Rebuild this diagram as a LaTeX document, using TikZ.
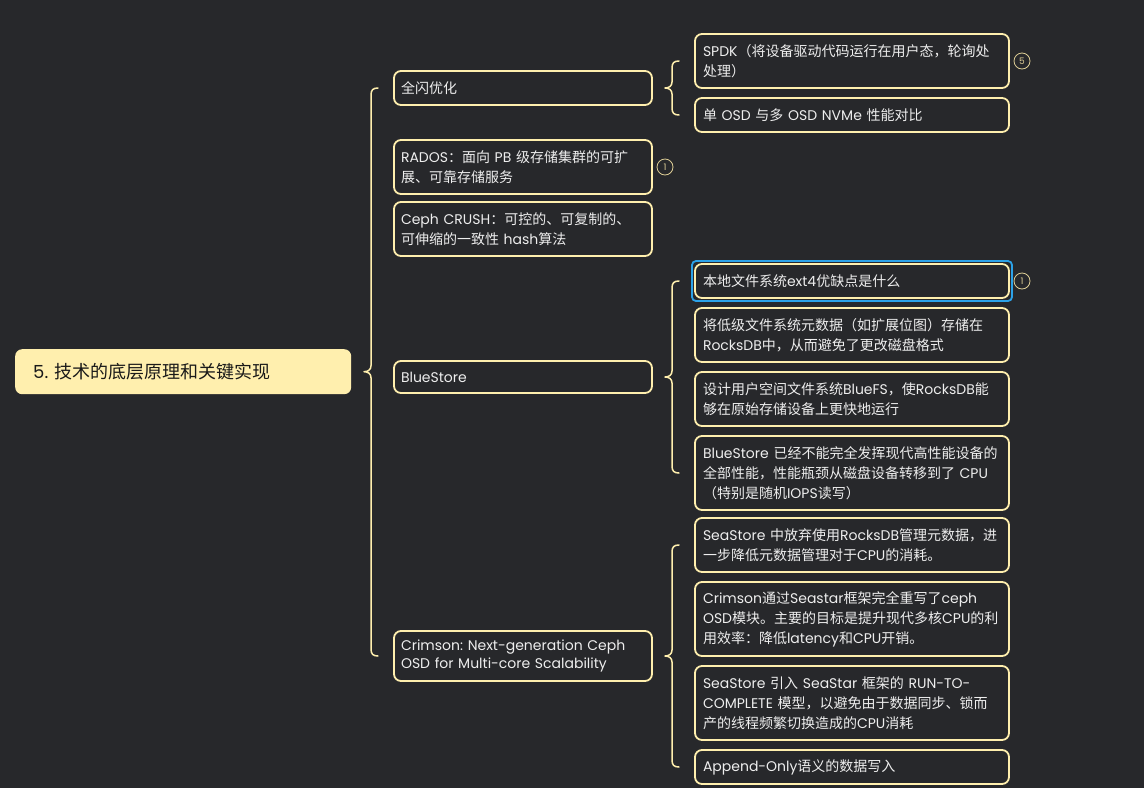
\documentclass[tikz,border=0pt]{standalone}
\usepackage{fontspec}
\usepackage{tikz}
\usetikzlibrary{calc}
\setmainfont{Poppins}
\frenchspacing
\newfontfamily\cjk{Noto Sans CJK SC}
\newcommand{\zh}[1]{{\cjk #1}}
\definecolor{bgdark}{RGB}{39,40,43}
\definecolor{cream}{RGB}{255,239,174}
\definecolor{leaftext}{RGB}{238,238,238}
\definecolor{selblue}{RGB}{44,162,232}
\definecolor{markgold}{RGB}{222,206,150}
\tikzset{
    topic/.style={draw=cream,line width=1.8pt,rounded corners=7,anchor=north west,inner sep=0pt,outer sep=0pt,
        inner xsep=8,text=leaftext,align=left,font=\fontsize{14}{20}\selectfont},
    mid/.style={topic,inner xsep=7,minimum width=258,text width=244},
    leaf/.style={topic,minimum width=314,text width=298},
    bracket/.style={draw=cream,line width=1.5pt,line cap=round,line join=round},
    marker/.style={draw=markgold,circle,line width=0.8pt,minimum size=16,inner sep=0pt,text=markgold,font=\fontsize{9}{9}\selectfont},
}
% brace from first to last child, tip at the height of the parent
\newcommand{\bracket}[3]{
    \draw[bracket] let \p1=(#2.west), \p2=(#3.west), \p3=(#1.east) in
        (\x1-16pt,\y1) .. controls (\x1-21pt,\y1) and (\x1-23pt,\y1-2pt) .. (\x1-23pt,\y1-7pt)
        -- (\x1-23pt,\y3+6pt) .. controls (\x1-23pt,\y3+2pt) and (\x1-26pt,\y3) .. (\x1-30pt,\y3)
        .. controls (\x1-26pt,\y3) and (\x1-23pt,\y3-2pt) .. (\x1-23pt,\y3-6pt)
        -- (\x1-23pt,\y2+7pt) .. controls (\x1-23pt,\y2+2pt) and (\x1-21pt,\y2) .. (\x1-16pt,\y2);
}

\begin{document}
\begin{tikzpicture}[x=1pt,y=-1pt]
    \fill[bgdark] (0,0) rectangle (1144,788);
    \useasboundingbox (0,0) rectangle (1144,788);

    \node[fill=cream,rounded corners=7,anchor=north west,minimum width=336,minimum height=45,inner sep=0pt,
        inner xsep=18,text width=300,align=left,text=black!90,font=\fontsize{18}{22}\selectfont] (root) at (15,349)
        {5. \zh{技术的底层原理和关键实现}};

    \node[mid,minimum height=34] (flash) at (394,71) {\zh{全闪优化}};
    \node[mid,minimum height=54] (rados) at (394,140) {RADOS\zh{：面向} PB \zh{级存储集群的可扩}\\\zh{展、可靠存储服务}};
    \node[mid,minimum height=54] (crush) at (394,202) {Ceph CRUSH\zh{：可控的、可复制的、}\\\zh{可伸缩的一致性} hash\zh{算法}};
    \node[mid,minimum height=32] (bluestore) at (394,361) {BlueStore};
    \node[mid,minimum height=50,font=\fontsize{14}{18}\selectfont] (crimson) at (394,631) {Crimson: Next-generation Ceph\\OSD for Multi-core Scalability};

    \node[leaf,minimum height=54] (spdk) at (695,34) {SPDK\zh{（将设备驱动代码运行在用户态，轮询处}\\\zh{处理）}};
    \node[leaf,minimum height=34] (nvme) at (695,98) {\zh{单} OSD \zh{与多} OSD NVMe \zh{性能对比}};

    \node[leaf,minimum height=34] (ext) at (695,264) {\zh{本地文件系统}ext4\zh{优缺点是什么}};
    \node[leaf,minimum height=54] (meta) at (695,308) {\zh{将低级文件系统元数据（如扩展位图）存储在}\\RocksDB\zh{中，从而避免了更改磁盘格式}};
    \node[leaf,minimum height=54] (bluefs) at (695,372) {\zh{设计用户空间文件系统}BlueFS\zh{，使}RocksDB\zh{能}\\\zh{够在原始存储设备上更快地运行}};
    \node[leaf,minimum height=74] (limit) at (695,436) {BlueStore \zh{已经不能完全发挥现代高性能设备的}\\\zh{全部性能，性能瓶颈从磁盘设备转移到了} CPU\\\zh{（特别是随机}IOPS\zh{读写）}};

    \node[leaf,minimum height=54] (seastore) at (695,518) {SeaStore \zh{中放弃使用}RocksDB\zh{管理元数据，进}\\\zh{一步降低元数据管理对于}CPU\zh{的消耗。}};
    \node[leaf,minimum height=74] (rewrite) at (695,582) {Crimson\zh{通过}Seastar\zh{框架完全重写了}ceph\\OSD\zh{模块。主要的目标是提升现代多核}CPU\zh{的利}\\\zh{用效率：降低}latency\zh{和}CPU\zh{开销。}};
    \node[leaf,minimum height=74] (runto) at (695,666) {SeaStore \zh{引入} SeaStar \zh{框架的} RUN-TO-\\COMPLETE \zh{模型，以避免由于数据同步、锁而}\\\zh{产的线程频繁切换造成的}CPU\zh{消耗}};
    \node[leaf,minimum height=34] (append) at (695,750) {Append-Only\zh{语义的数据写入}};

    % selection frame
    \node[draw=selblue,line width=1.8pt,rounded corners=4,minimum width=320,minimum height=40,inner sep=0pt] (selected) at (ext.center) {};

    \node[marker] (mark5) at (1022,61) {5};
    \node[marker] (mark1a) at (665,167) {1};
    \node[marker] (mark1b) at (1022,281) {1};

    \bracket{root}{flash}{crimson}
    \bracket{flash}{spdk}{nvme}
    \bracket{bluestore}{ext}{limit}
    \bracket{crimson}{seastore}{append}
\end{tikzpicture}
\end{document}
